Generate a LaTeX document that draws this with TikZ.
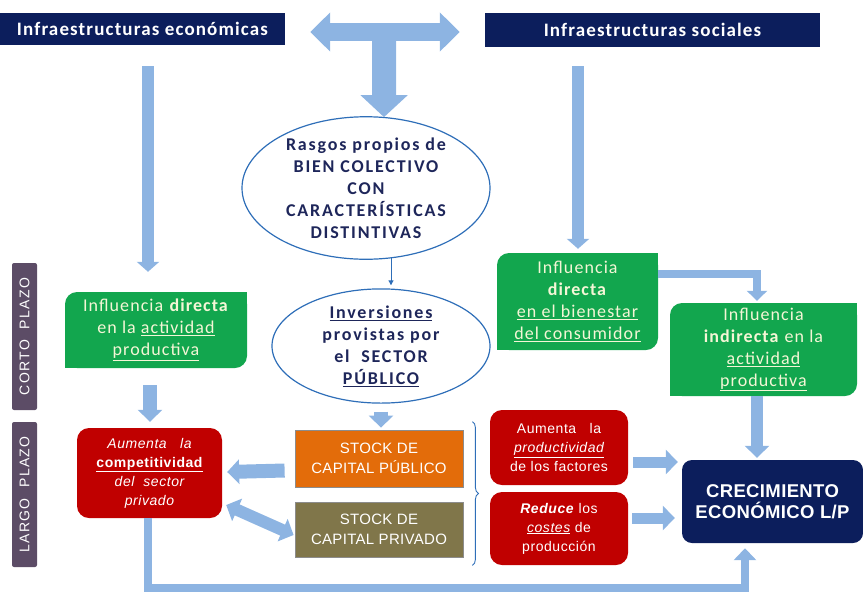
\documentclass[tikz,border=0pt]{standalone}
\usepackage{fontspec}
\setmainfont{Carlito}
\newfontfamily\arialf[LetterSpace=4]{Liberation Sans}
\newfontfamily\arialplain[LetterSpace=2]{Liberation Sans}
\newfontfamily\arialwide[LetterSpace=10]{Liberation Sans}
\newfontfamily\topf[LetterSpace=6]{Carlito}
\newfontfamily\ellf[LetterSpace=10]{Carlito}
\newfontfamily\greenf[LetterSpace=6]{Carlito}
\usetikzlibrary{arrows.meta,decorations.pathreplacing,shapes.geometric,calc}
\definecolor{navy}{RGB}{12,30,92}
\definecolor{ablue}{RGB}{141,180,226}
\definecolor{greenfill}{RGB}{18,166,78}
\definecolor{gtext}{RGB}{244,246,214}
\definecolor{redfill}{RGB}{192,0,0}
\definecolor{orangefill}{RGB}{227,108,10}
\definecolor{olivefill}{RGB}{128,118,74}
\definecolor{plazofill}{RGB}{92,76,102}
\definecolor{eline}{RGB}{46,110,184}
\definecolor{etext}{RGB}{30,38,90}
\begin{document}
\begin{tikzpicture}[x=1pt,y=-1pt,
  topbox/.style={fill=navy, text=white, inner sep=0pt, font=\topf\fontsize{19}{21}\selectfont\bfseries},
  ell/.style={ellipse, draw=eline, line width=1.2pt, text=etext, align=center, inner sep=0pt, font=\ellf\fontsize{18}{22}\selectfont\bfseries},
  greenbox/.style={fill=greenfill, text=gtext, rounded corners=12pt, align=center, inner sep=0pt, font=\greenf\fontsize{18}{22}\selectfont},
  redbox/.style={fill=redfill, text=white, rounded corners=12pt, align=center, inner sep=0pt, font=\arialf\fontsize{14}{19}\selectfont},
  stockbox/.style={draw=black!45, line width=0.8pt, text=white, align=center, inner sep=0pt, font=\arialplain\fontsize{15}{20}\selectfont},
  plazobox/.style={fill=plazofill, text=white, rounded corners=2pt, rotate=90, inner sep=0pt, font=\arialwide\fontsize{14}{16}\selectfont},
  crecbox/.style={fill=navy, text=white, rounded corners=10pt, align=center, inner sep=0pt, font=\arialplain\fontsize{18.5}{21}\selectfont\bfseries},
  blk/.style={draw=ablue, line width=#1},
  tipA/.style={-{Triangle[length=12pt,width=24pt]}},
]
\useasboundingbox (0,0) rectangle (863,598);

% top boxes
\node[topbox, minimum width=285pt, minimum height=32pt] (topL) at (142.5,29) {Infraestructuras económicas};
\node[topbox, minimum width=335pt, minimum height=34pt] (topR) at (652.5,30) {Infraestructuras sociales};

% ellipses
\node[ell, minimum width=248pt, minimum height=135pt] (e1) at (366,188)
  {Rasgos propios de\\BIEN COLECTIVO\\CON\\CARACTERÍSTICAS\\DISTINTIVAS};
\node[ell, minimum width=218pt, minimum height=87pt] (e2) at (381,346)
  {\underline{Inversiones}\\provistas por\\el~ SECTOR\\\underline{PÚBLICO}};

% green boxes
\node[greenbox, minimum width=182pt, minimum height=76pt] (g1) at (156,330)
  {Influencia \textbf{directa}\\en la \underline{actividad}\\\underline{productiva}};
\node[greenbox, minimum width=161pt, minimum height=97pt] (g2) at (577.5,301.5)
  {Influencia\\\textbf{directa}\\\underline{en el bienestar}\\\underline{del consumidor}};
\node[greenbox, minimum width=187pt, minimum height=93pt] (g3) at (763.5,349.5)
  {Influencia\\\textbf{indirecta} en la\\\underline{actividad}\\\underline{productiva}};
\foreach \g in {g1,g2,g3}{
  \fill[greenfill] (\g.north east) rectangle ++(-14,14);
  \fill[greenfill] (\g.south west) rectangle ++(14,-14);
}

% plazo labels
\node[plazobox, minimum width=147pt, minimum height=25pt] (cp) at (24.5,336.5) {CORTO~ PLAZO};
\node[plazobox, minimum width=145pt, minimum height=25pt] (lp) at (24.5,494.5) {LARGO~ PLAZO};

% red boxes
\node[redbox, minimum width=145pt, minimum height=90pt] (r1) at (149.5,473)
  {\itshape Aumenta~~ la\\\textbf{\underline{competitividad}}\\\itshape del~ sector\\\itshape privado};
\node[redbox, minimum width=138pt, minimum height=75pt] (r2) at (559,447.5)
  {Aumenta~~ la\\\textit{\underline{productividad}}\\de los factores};
\node[redbox, minimum width=138pt, minimum height=73pt] (r3) at (559,528.5)
  {\textbf{\textit{Reduce}} los\\\textit{\underline{costes}} de\\producción};

% stock boxes
\node[stockbox, fill=orangefill, minimum width=168pt, minimum height=57pt] (so) at (379,458.5)
  {STOCK DE\\CAPITAL PÚBLICO};
\node[stockbox, fill=olivefill, minimum width=168pt, minimum height=55pt] (sv) at (379,529.5)
  {STOCK DE\\CAPITAL PRIVADO};

% crecimiento
\node[crecbox, minimum width=181pt, minimum height=83pt] (cr) at (772.5,501.5)
  {CRECIMIENTO\\ECONÓMICO L/P};

% T arrow
\draw[blk=18pt, {Triangle[length=20pt,width=38pt]}-{Triangle[length=20pt,width=38pt]}]
  ($(topL.east)+(25,3)$) -- ($(topR.west)+(-25,2)$);
\draw[blk=24pt, -{Triangle[length=22pt,width=46pt]}] ($(topL.east)+(99,3)$) -- ($(e1.north)+(18,1)$);

% long vertical arrows
\draw[blk=12pt, -{Triangle[length=10pt,width=22pt]}] ($(topL.south)+(5.5,21)$) -- ($(g1.north)+(-8,-20)$);
\draw[blk=12pt, -{Triangle[length=10pt,width=22pt]}] ($(topR.south -| g2.north)+(0.5,19)$) -- ($(g2.north)+(0.5,-4)$);

% thin arrow
\draw[eline, line width=1pt, -{Triangle[length=5pt,width=5pt]}] ($(e2.north)+(10,-31)$) -- ($(e2.north)+(10,-3)$);

% short arrows
\draw[blk=14pt, tipA] ($(g1.south)+(-6,17)$) -- ($(r1.north)+(0.5,-6)$);
\draw[blk=14pt, tipA] ($(e2.south)+(0,8)$) -- ($(so.north -| e2.south)+(0,-2)$);
\draw[blk=14pt, tipA] ($(so.west)+(-10,12)$) -- ($(r1.east)+(5,-1)$);
\draw[blk=12pt, {Triangle[length=12pt,width=24pt]}-{Triangle[length=12pt,width=24pt]}] ($(r1.east)+(4,32)$) -- ($(sv.west)+(-1,5.5)$);
\draw[blk=11pt, tipA] ($(r2.east)+(5,14.5)$) -- ($(cr.west)+(-4,-39.5)$);
\draw[blk=11pt, tipA] ($(r3.east)+(4,-10.5)$) -- ($(cr.west)+(-7,16.5)$);

% elbow
\draw[blk=8pt, -{Triangle[length=10pt,width=20pt]}] ($(g2.east)+(0,-27.5)$) -| ($(g3.north)+(-6.5,-2)$);
\draw[blk=12pt, tipA] ($(g3.south)+(-6.5,0)$) -- ($(cr.north)+(-15.5,-2)$);

% bottom loop
\draw[blk=8pt, -{Triangle[length=12pt,width=22pt]}] ($(r1.south)+(-1.5,0)$) -- ++(0,70) -| ($(cr.south)+(-27.5,5)$);

% brace
\draw[eline, line width=0.9pt, decorate, decoration={brace, amplitude=6pt}]
  ($(so.north east)+(9,-8)$) -- ($(sv.south east)+(9,8)$);
\end{tikzpicture}
\end{document}
